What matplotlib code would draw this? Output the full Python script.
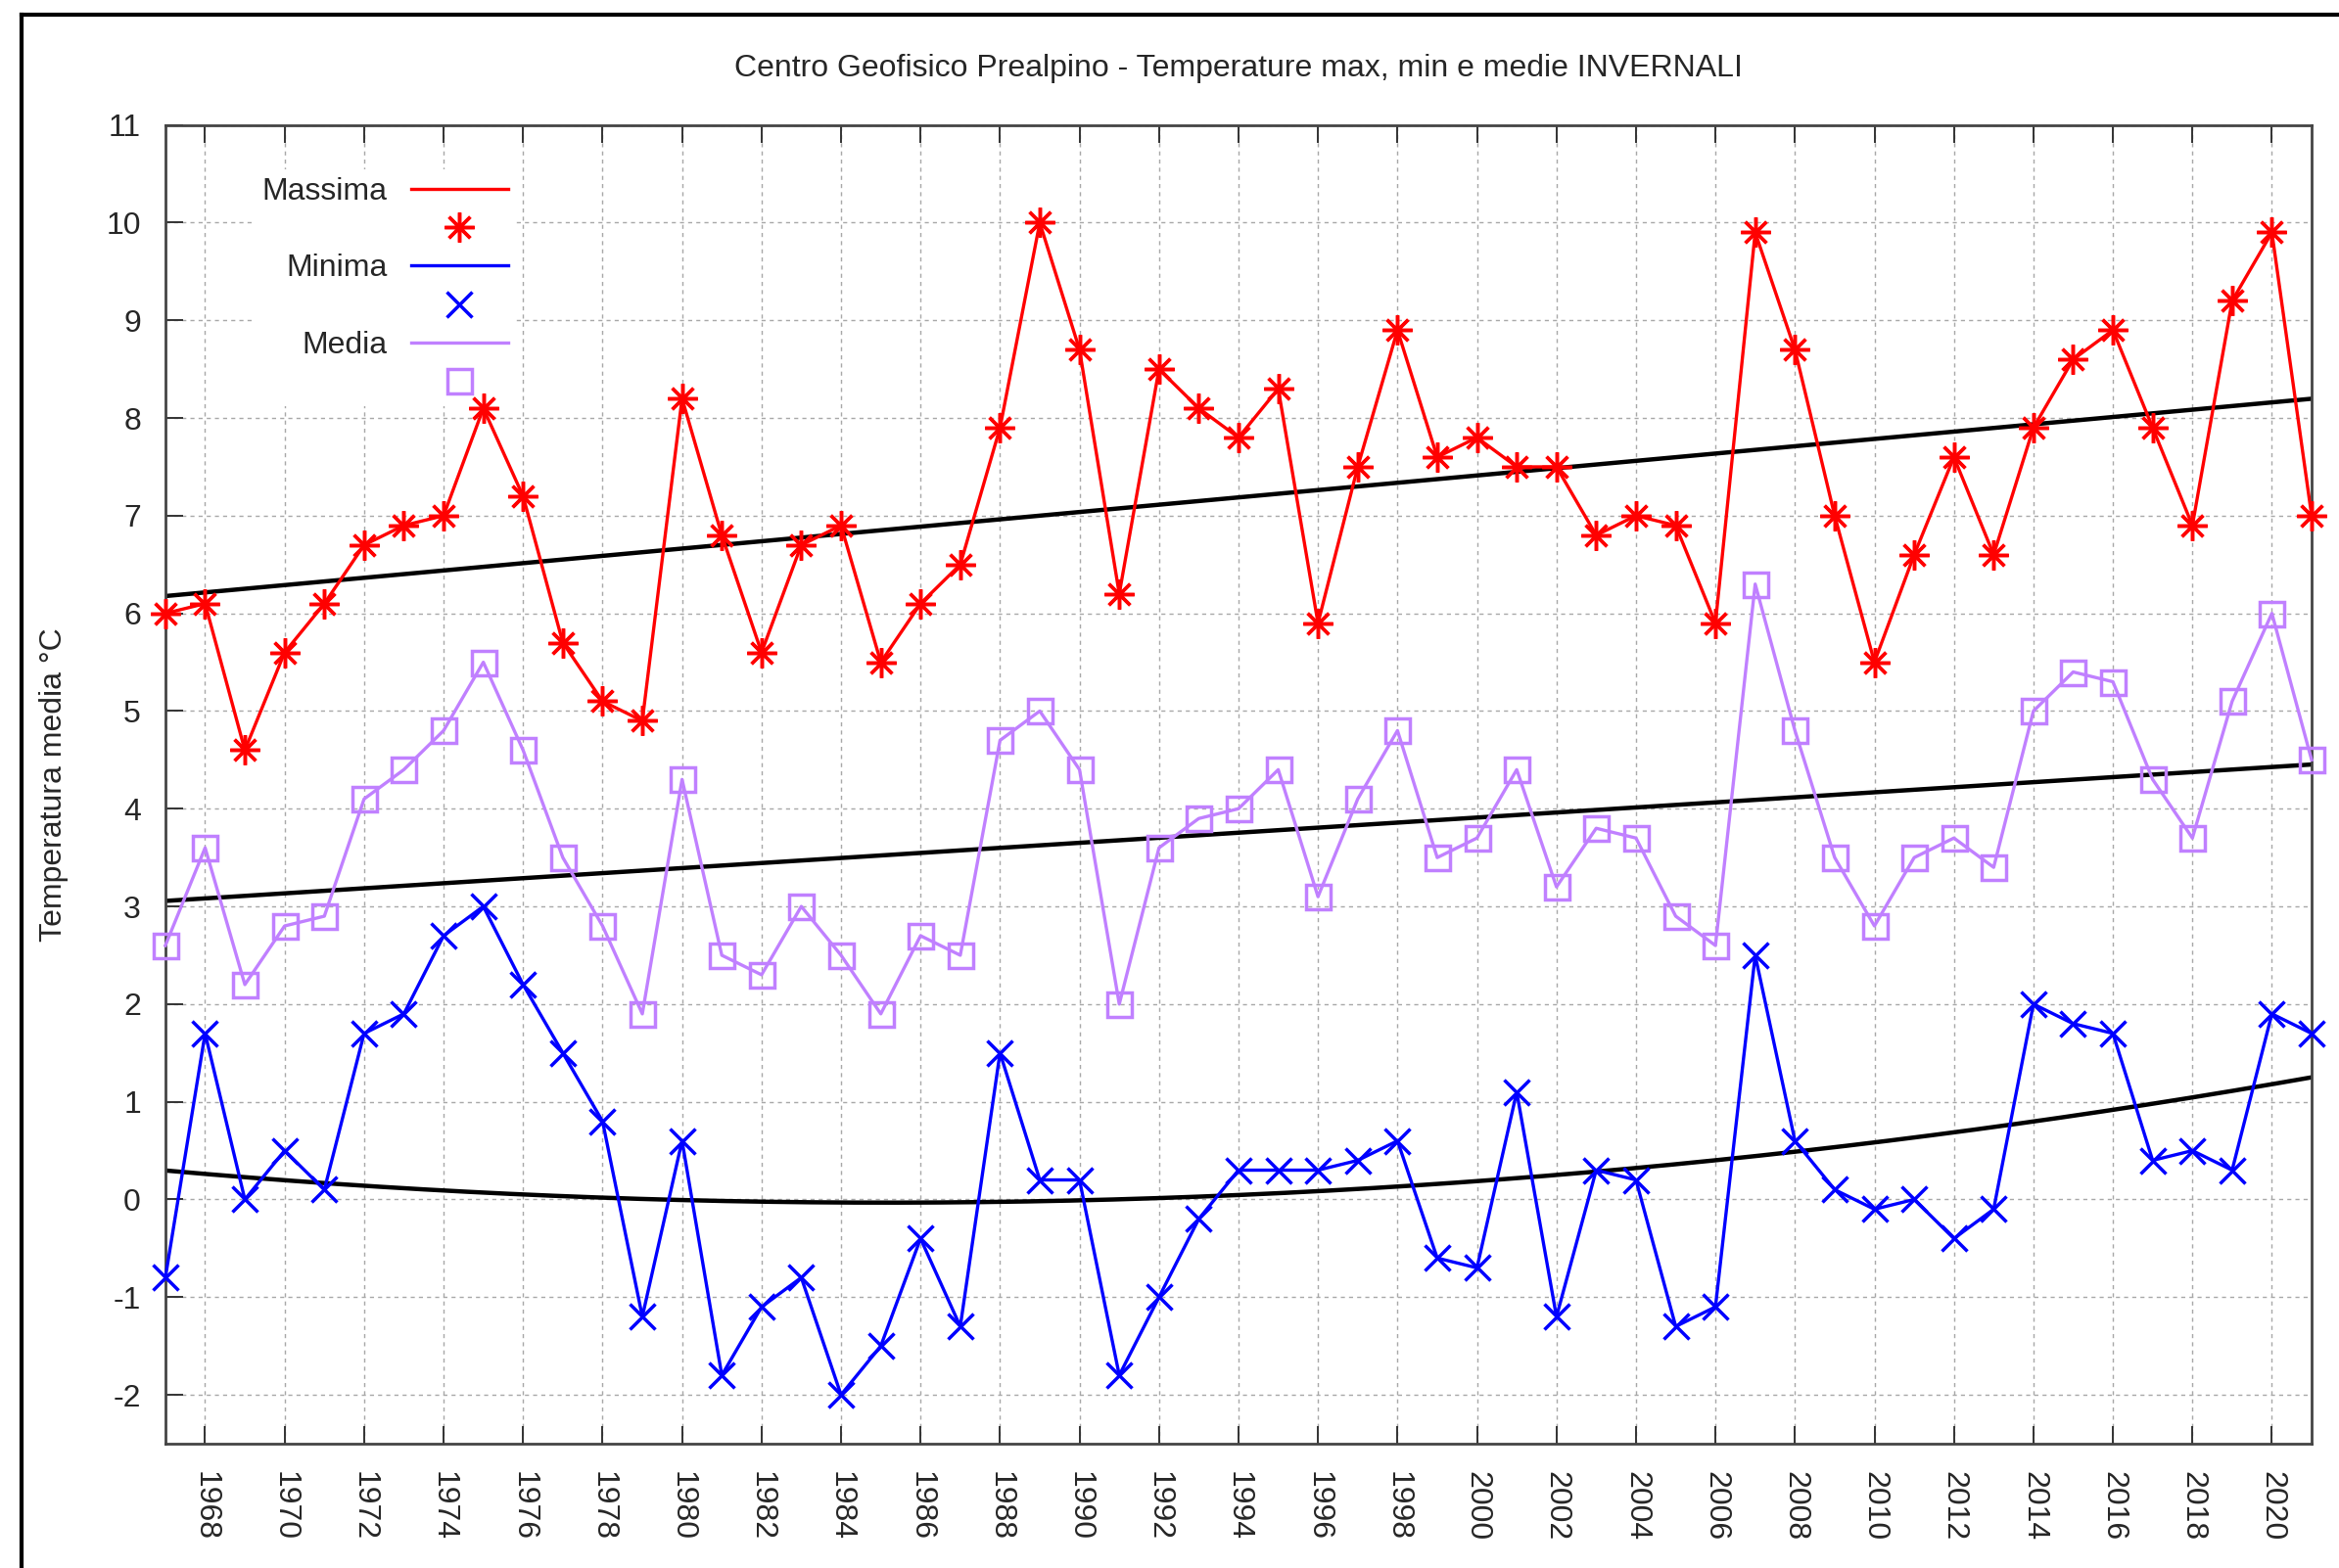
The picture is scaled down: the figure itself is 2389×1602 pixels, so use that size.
import numpy as np
import matplotlib.pyplot as plt
from matplotlib.lines import Line2D

plt.rcParams['font.family'] = ['Liberation Sans', 'DejaVu Sans']
plt.rcParams['axes.unicode_minus'] = False

years = list(range(1967, 2022))

t_max = [6.0, 6.1, 4.6, 5.6, 6.1, 6.7, 6.9, 7.0, 8.1, 7.2,
         5.7, 5.1, 4.9, 8.2, 6.8, 5.6, 6.7, 6.9, 5.5, 6.1,
         6.5, 7.9, 10.0, 8.7, 6.2, 8.5, 8.1, 7.8, 8.3, 5.9,
         7.5, 8.9, 7.6, 7.8, 7.5, 7.5, 6.8, 7.0, 6.9, 5.9,
         9.9, 8.7, 7.0, 5.5, 6.6, 7.6, 6.6, 7.9, 8.6, 8.9,
         7.9, 6.9, 9.2, 9.9, 7.0]

t_min = [-0.8, 1.7, 0.0, 0.5, 0.1, 1.7, 1.9, 2.7, 3.0, 2.2,
         1.5, 0.8, -1.2, 0.6, -1.8, -1.1, -0.8, -2.0, -1.5, -0.4,
         -1.3, 1.5, 0.2, 0.2, -1.8, -1.0, -0.2, 0.3, 0.3, 0.3,
         0.4, 0.6, -0.6, -0.7, 1.1, -1.2, 0.3, 0.2, -1.3, -1.1,
         2.5, 0.6, 0.1, -0.1, 0.0, -0.4, -0.1, 2.0, 1.8, 1.7,
         0.4, 0.5, 0.3, 1.9, 1.7]

t_med = [2.6, 3.6, 2.2, 2.8, 2.9, 4.1, 4.4, 4.8, 5.5, 4.6,
         3.5, 2.8, 1.9, 4.3, 2.5, 2.3, 3.0, 2.5, 1.9, 2.7,
         2.5, 4.7, 5.0, 4.4, 2.0, 3.6, 3.9, 4.0, 4.4, 3.1,
         4.1, 4.8, 3.5, 3.7, 4.4, 3.2, 3.8, 3.7, 2.9, 2.6,
         6.3, 4.8, 3.5, 2.8, 3.5, 3.7, 3.4, 5.0, 5.4, 5.3,
         4.3, 3.7, 5.1, 6.0, 4.5]

min_trend_years = [1967, 1976, 1985, 1994, 2004, 2012, 2021]
min_trend_vals = [0.29, 0.06, -0.03, 0.05, 0.30, 0.70, 1.25]

red = '#ff0000'
blue = '#0000ff'
purple = '#c080ff'
txt = '#262626'

fig = plt.figure(figsize=(23.89, 16.02), dpi=100)
ax = fig.add_axes([0.0707, 0.0793, 0.9176, 0.8410])

x = np.array(years)

# trend lines
xs = np.linspace(1967, 2021, 300)
ax.plot(xs, np.polyval(np.polyfit(x, t_max, 1), xs), color='black', lw=3.2, zorder=2)
ax.plot(xs, np.polyval(np.polyfit(x, t_med, 1), xs), color='black', lw=3.2, zorder=2)
ax.plot(xs, np.polyval(np.polyfit(min_trend_years, min_trend_vals, 2), xs),
        color='black', lw=3.2, zorder=2)

ax.plot(x, t_max, color=red, lw=2.4, marker=(8, 2, 0), ms=22, mew=2.5,
        mec=red, zorder=3, clip_on=False)
ax.plot(x, t_min, color=blue, lw=2.4, marker='x', ms=19, mew=2.5,
        mec=blue, zorder=3, clip_on=False)
ax.plot(x, t_med, color=purple, lw=2.4, marker='s', ms=18, mew=2.5,
        mec=purple, mfc='none', zorder=3, clip_on=False)

ax.set_xlim(1967, 2021)
ax.set_ylim(-2.5, 11)
ax.set_xticks(range(1968, 2021, 2))
ax.set_yticks(range(-2, 12))
ax.tick_params(axis='x', direction='in', length=13, width=1.4, pad=20,
               labelrotation=-90, labelsize=23, labelcolor=txt, color='#333333',
               top=True)
ax.tick_params(axis='y', direction='in', length=13, width=1.4, pad=18,
               labelsize=23, labelcolor=txt, color='#333333')
for t in ax.get_xticklabels():
    t.set_va('top')

ax.grid(True, color='#a8a8a8', lw=1.0, linestyle=(0, (3, 3)))
for s in ax.spines.values():
    s.set_color('#444444')
    s.set_linewidth(2.0)

ax.set_title('Centro Geofisico Prealpino - Temperature max, min e medie INVERNALI',
             fontsize=23, color=txt, pad=36)
ax.set_ylabel('Temperatura media °C', fontsize=23, color=txt, labelpad=28)

handles = [
    Line2D([], [], color=red, lw=2.4),
    Line2D([], [], color=red, lw=0, marker=(8, 2, 0), ms=22, mew=2.5),
    Line2D([], [], color=blue, lw=2.4),
    Line2D([], [], color=blue, lw=0, marker='x', ms=19, mew=2.5),
    Line2D([], [], color=purple, lw=2.4),
    Line2D([], [], color=purple, lw=0, marker='s', ms=18, mew=2.5, mfc='none'),
]
labels = ['Massima', ' ', 'Minima', ' ', 'Media', ' ']
leg = ax.legend(handles, labels, loc='upper left', bbox_to_anchor=(0.0415, 0.9664),
                borderaxespad=0, borderpad=0.25, markerfirst=False, fontsize=23,
                handlelength=3.1, handletextpad=0.75, labelspacing=0.29,
                frameon=True, fancybox=False, facecolor='white', edgecolor='none',
                framealpha=1.0, labelcolor=txt)
# above the grid, below the data lines
leg.set_zorder(2.5)

# outer frame (top and left edges only visible in the crop)
fig.add_artist(Line2D([0.0094, 1.0], [0.9906, 0.9906], color='black', lw=3.0,
                      transform=fig.transFigure))
fig.add_artist(Line2D([0.0094, 0.0094], [0.0, 0.9906], color='black', lw=3.0,
                      transform=fig.transFigure))

fig.savefig('out.png', dpi=100)
